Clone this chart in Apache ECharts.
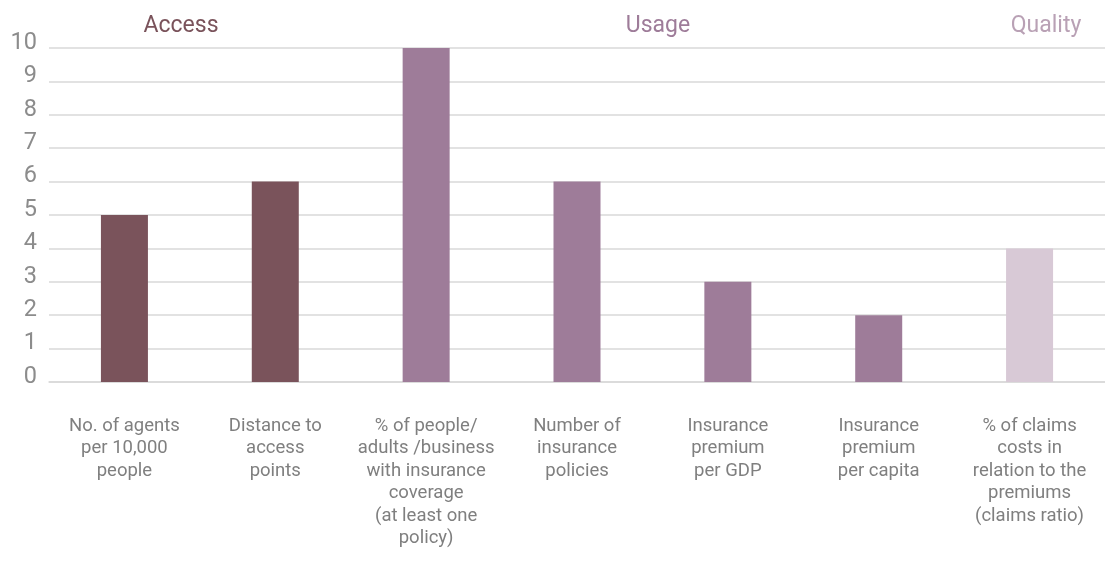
<!DOCTYPE html>
<html><head><meta charset="utf-8">
<script src="https://cdn.jsdelivr.net/npm/echarts@6/dist/echarts.min.js"></script>
<style>html,body{margin:0;padding:0;background:#fff}#c{width:1105px;height:561px}</style>
</head><body><div id="c"></div>
<script>
const categories = [
  "No. of agents\nper 10,000\npeople",
  "Distance to\naccess\npoints",
  "% of people/\nadults /business\nwith insurance\ncoverage\n(at least one\npolicy)",
  "Number of\ninsurance\npolicies",
  "Insurance\npremium\nper GDP",
  "Insurance\npremium\nper capita",
  "% of claims\ncosts in\nrelation to the\npremiums\n(claims ratio)"
];
const values = [5, 6, 10, 6, 3, 2, 4];
const groups = ["Access", "Access", "Usage", "Usage", "Usage", "Usage", "Quality"];
const groupColors = { Access: "#7a535b", Usage: "#9e7c99", Quality: "#d8c9d6" };
const groupTitles = ["Access", "Usage", "Quality"];
const titleColors = ["#7a535b", "#9e7c99", "#b9a1b5"];
const titleX = [181, 658, 1046];

const FONT = "Roboto";
const chart = echarts.init(document.getElementById('c'));
chart.setOption({
  animation: false,
  grid: { left: 49, right: 0, top: 48, bottom: 179, containLabel: false },
  graphic: groupTitles.map((t, i) => ({ type: 'text', x: titleX[i], y: 26,
    style: { text: t, fill: titleColors[i], fontFamily: FONT, fontSize: 23, align: 'center', verticalAlign: 'middle' } })),
  xAxis: {
    type: 'category', data: categories,
    axisLine: { show: true, lineStyle: { color: '#d9d9d9', width: 1.5 } },
    axisTick: { show: false },
    axisLabel: { color: '#7f7f7f', fontFamily: FONT, fontSize: 18.5, lineHeight: 22.5, margin: 33, interval: 0 }
  },
  yAxis: {
    type: 'value', min: 0, max: 10, interval: 1,
    axisLine: { show: false }, axisTick: { show: false },
    axisLabel: { color: '#8c8c8c', fontFamily: FONT, fontSize: 23.5, margin: 12, verticalAlign: 'bottom', lineHeight: 10 },
    splitLine: { lineStyle: { color: '#d9d9d9', width: 1.5 } }
  },
  series: [{
    type: 'bar', barWidth: 47,
    data: values.map((v, i) => ({ value: v, itemStyle: { color: groupColors[groups[i]] } }))
  }]
});
</script></body></html>
